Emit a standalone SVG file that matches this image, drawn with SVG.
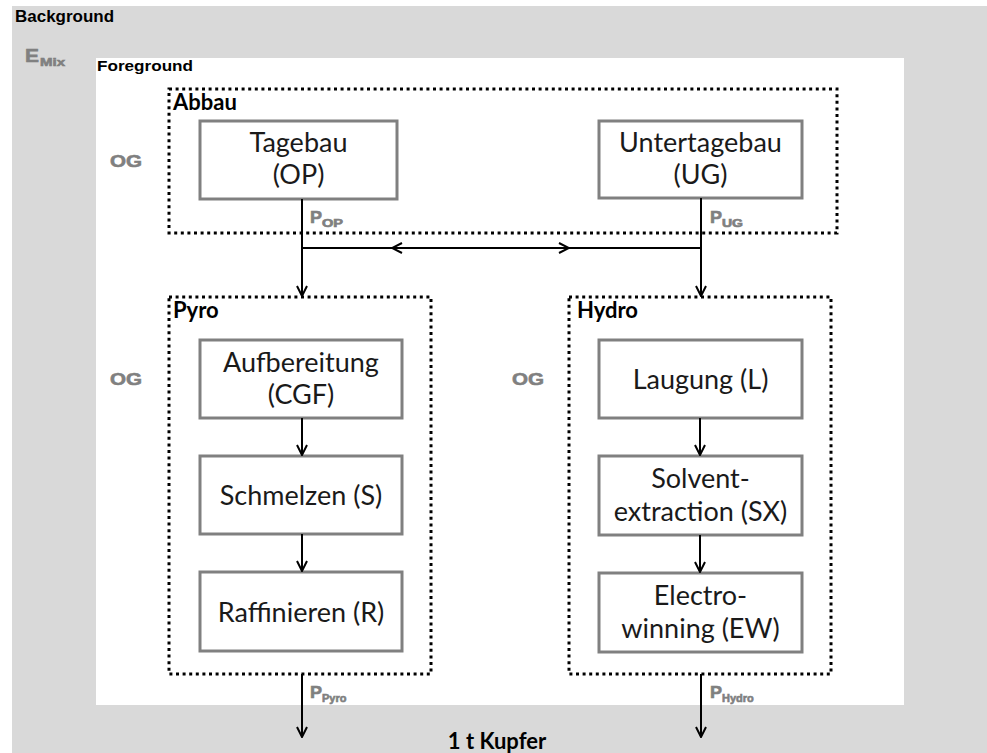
<svg xmlns="http://www.w3.org/2000/svg" width="987" height="753" viewBox="0 0 987 753">
<defs>
<marker id="arr" viewBox="0 0 12 12" refX="11" refY="6" markerWidth="12" markerHeight="12" markerUnits="userSpaceOnUse" orient="auto">
<path d="M1,1 L11,6 L1,11" fill="none" stroke="#000" stroke-width="2"/>
</marker>
</defs>
<style>
.bg{fill:#d9d9d9}
.fg{fill:#fff}
.grp{fill:none;stroke:#000;stroke-width:3;stroke-dasharray:3 3.6}
.box{fill:#fff;stroke:#808080;stroke-width:3}
.t{font-family:Lato,"Open Sans","Liberation Sans",sans-serif;font-size:27px;fill:#1a1a1a;text-anchor:middle}
.gt{font-family:Lato,"Open Sans","Liberation Sans",sans-serif;font-size:22px;font-weight:bold;fill:#000}
.lbl{font-family:"Liberation Sans",Arial,sans-serif;font-weight:bold;fill:#000}
.gray{font-family:"Liberation Sans",Arial,sans-serif;font-weight:bold;fill:#808080;stroke:#808080;stroke-width:0.6}
.c{fill:none;stroke:#000;stroke-width:2}
</style>
<rect class="bg" x="12" y="6" width="975" height="747"/>
<text class="lbl" x="15" y="22" font-size="16" textLength="99" lengthAdjust="spacingAndGlyphs">Background</text>
<text class="gray" x="25" y="62" font-size="19" textLength="14" lengthAdjust="spacingAndGlyphs">E</text>
<text class="gray" x="40" y="66" font-size="11" textLength="25" lengthAdjust="spacingAndGlyphs">Mix</text>
<rect class="fg" x="96" y="58" width="808" height="647"/>
<text class="lbl" x="97" y="71" font-size="15" textLength="96" lengthAdjust="spacingAndGlyphs">Foreground</text>

<g id="abbau">
<rect class="grp" x="169" y="89" width="668" height="144"/>
<text class="gt" x="173" y="110">Abbau</text>
</g>
<g id="pyro">
<rect class="grp" x="169" y="297" width="262" height="377"/>
<text class="gt" x="173" y="318">Pyro</text>
</g>
<g id="hydro">
<rect class="grp" x="569" y="297" width="262" height="377"/>
<text class="gt" x="577" y="318">Hydro</text>
</g>

<g id="og-labels">
<text class="gray" x="110" y="167" font-size="17" textLength="32" lengthAdjust="spacingAndGlyphs">OG</text>
<text class="gray" x="110" y="385" font-size="17" textLength="32" lengthAdjust="spacingAndGlyphs">OG</text>
<text class="gray" x="512" y="385" font-size="17" textLength="32" lengthAdjust="spacingAndGlyphs">OG</text>
</g>

<g id="tagebau">
<rect class="box" x="200" y="121" width="197" height="78"/>
<text class="t" x="298.5" y="152">Tagebau</text>
<text class="t" x="298.5" y="184">(OP)</text>
</g>
<g id="untertagebau">
<rect class="box" x="599" y="121" width="203" height="77"/>
<text class="t" x="700.5" y="152">Untertagebau</text>
<text class="t" x="700.5" y="184">(UG)</text>
</g>
<g id="aufbereitung">
<rect class="box" x="200" y="340" width="202" height="78"/>
<text class="t" x="301" y="372">Aufbereitung</text>
<text class="t" x="301" y="404">(CGF)</text>
</g>
<g id="schmelzen">
<rect class="box" x="200" y="456" width="202" height="78"/>
<text class="t" x="301" y="505">Schmelzen (S)</text>
</g>
<g id="raffinieren">
<rect class="box" x="200" y="572" width="202" height="79"/>
<text class="t" x="301" y="622">Raffinieren (R)</text>
</g>
<g id="laugung">
<rect class="box" x="599" y="340" width="203" height="78"/>
<text class="t" x="700.5" y="389">Laugung (L)</text>
</g>
<g id="solvent">
<rect class="box" x="599" y="456" width="203" height="79"/>
<text class="t" x="700.5" y="488">Solvent-</text>
<text class="t" x="700.5" y="521">extraction (SX)</text>
</g>
<g id="electro">
<rect class="box" x="599" y="573" width="203" height="79"/>
<text class="t" x="700.5" y="605">Electro-</text>
<text class="t" x="700.5" y="638">winning (EW)</text>
</g>

<g id="connectors">
<path class="c" d="M302,199 V296" marker-end="url(#arr)"/>
<path class="c" d="M701,198 V296" marker-end="url(#arr)"/>
<path class="c" d="M302,248 H701"/>
<path class="c" d="M480,248 H392" marker-end="url(#arr)"/>
<path class="c" d="M480,248 H569" marker-end="url(#arr)"/>
<path class="c" d="M302,418 V455" marker-end="url(#arr)"/>
<path class="c" d="M302,534 V571" marker-end="url(#arr)"/>
<path class="c" d="M700,418 V455" marker-end="url(#arr)"/>
<path class="c" d="M700,535 V572" marker-end="url(#arr)"/>
<path class="c" d="M302,674 V737" marker-end="url(#arr)"/>
<path class="c" d="M701,674 V737" marker-end="url(#arr)"/>
</g>

<g id="flow-labels">
<text class="gray" x="310" y="223" font-size="17" textLength="12" lengthAdjust="spacingAndGlyphs">P</text>
<text class="gray" x="322" y="227" font-size="10" textLength="21" lengthAdjust="spacingAndGlyphs">OP</text>
<text class="gray" x="710" y="223" font-size="17" textLength="12" lengthAdjust="spacingAndGlyphs">P</text>
<text class="gray" x="722" y="227" font-size="10" textLength="21" lengthAdjust="spacingAndGlyphs">UG</text>
<text class="gray" x="310" y="698" font-size="17" textLength="12" lengthAdjust="spacingAndGlyphs">P</text>
<text class="gray" x="322" y="702" font-size="11" font-family="Lato,'Open Sans',sans-serif">Pyro</text>
<text class="gray" x="710" y="698" font-size="17" textLength="12" lengthAdjust="spacingAndGlyphs">P</text>
<text class="gray" x="722" y="702" font-size="11" font-family="Lato,'Open Sans',sans-serif">Hydro</text>
</g>
<text class="gt" x="497" y="749" text-anchor="middle" font-size="21">1 t Kupfer</text>
</svg>
